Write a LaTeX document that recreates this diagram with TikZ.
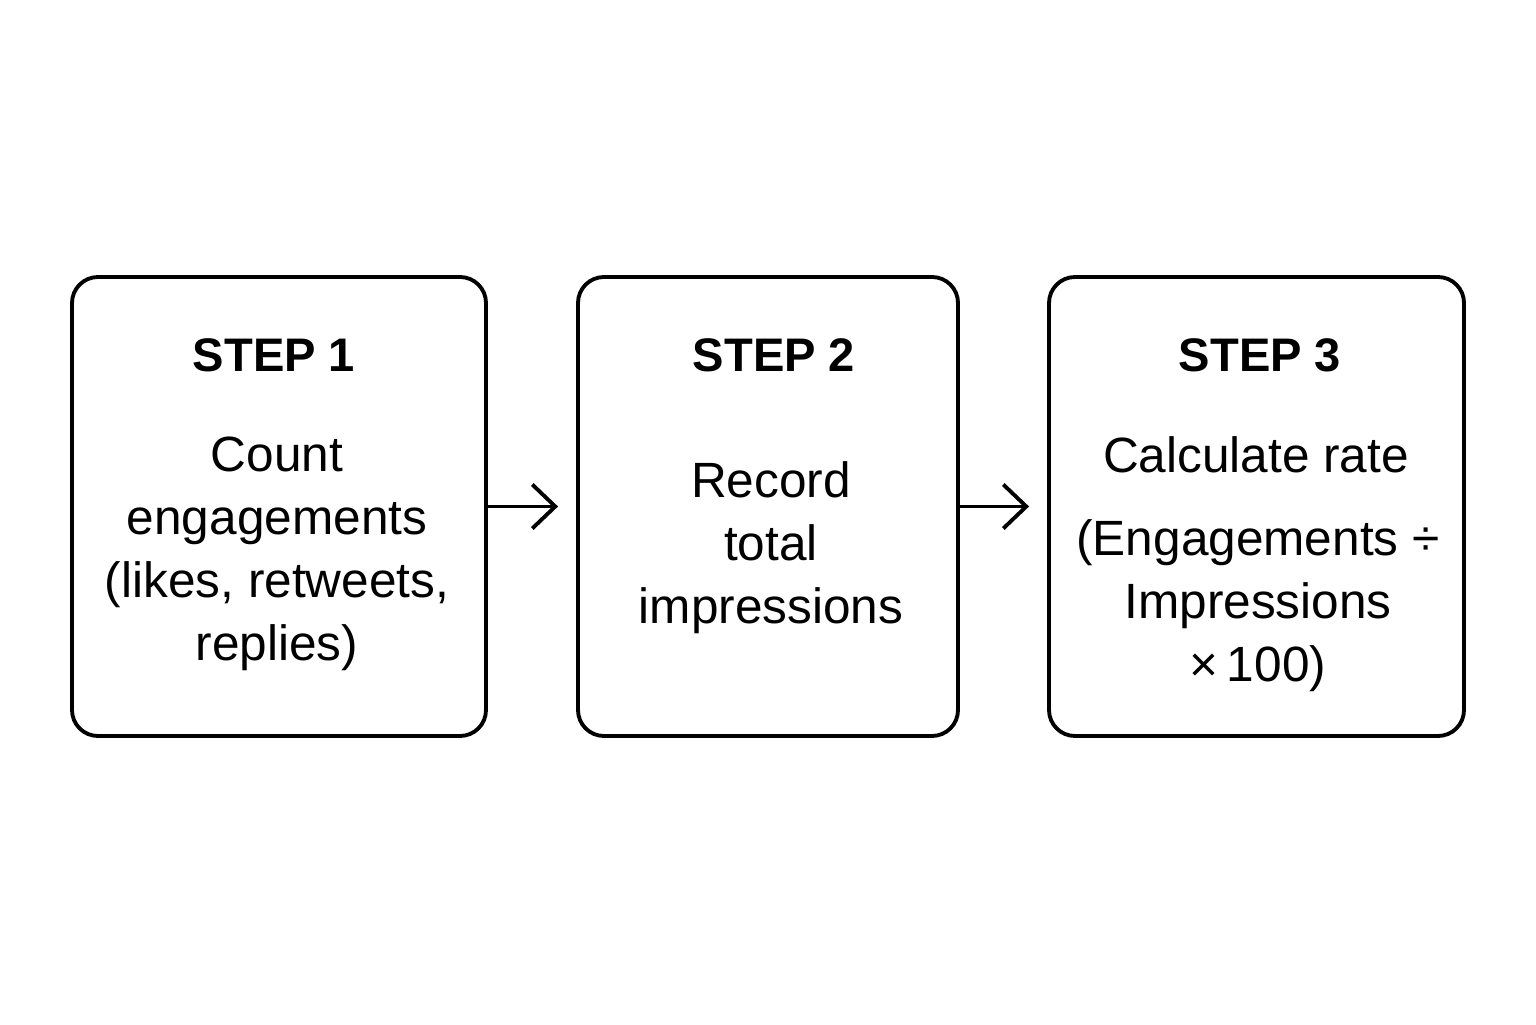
\documentclass[tikz,border=0pt]{standalone}
\usepackage{fontspec}
\setmainfont{Liberation Sans}
\usetikzlibrary{arrows.meta}
\tikzset{
  stepbox/.style={draw,line width=1.1pt,rounded corners=0.26cm,minimum height=4.59cm,inner sep=0pt},
  steptitle/.style={font=\fontsize{13.4}{16}\selectfont\bfseries},
  steptext/.style={align=center,font=\fontsize{14.1}{17.9}\selectfont},
  flow/.style={line width=1.1pt,-{Straight Barb[length=0.23cm,width=0.44cm,line width=1.1pt]},shorten >=0.18cm}
}
\begin{document}
\begin{tikzpicture}
\useasboundingbox (0,0) rectangle (15.36,10.24);
\node[stepbox,minimum width=4.14cm] (box1) at (2.79,5.175) {};
\node[stepbox,minimum width=3.80cm] (box2) at (7.68,5.175) {};
\node[stepbox,minimum width=4.15cm] (box3) at (12.565,5.175) {};
\node[steptitle] (t1) at (2.74,6.69) {STEP 1};
\node[steptitle] (t2) at (7.74,6.69) {STEP 2};
\node[steptitle] (t3) at (12.60,6.69) {STEP 3};
\node[steptext] (b1) at (2.77,4.70) {Count\\engagements\\(likes, retweets,\\replies)};
\node[steptext] (b2) at (7.71,4.76) {Record\\total\\impressions};
\node[steptext] (b3a) at (12.56,5.69) {Calculate rate};
\node[steptext] (b3b) at (12.58,4.18) {(Engagements ÷\\Impressions\\×\,100)};
\draw[flow] (box1.east) -- (box2.west);
\draw[flow] (box2.east) -- (box3.west);
\end{tikzpicture}
\end{document}
